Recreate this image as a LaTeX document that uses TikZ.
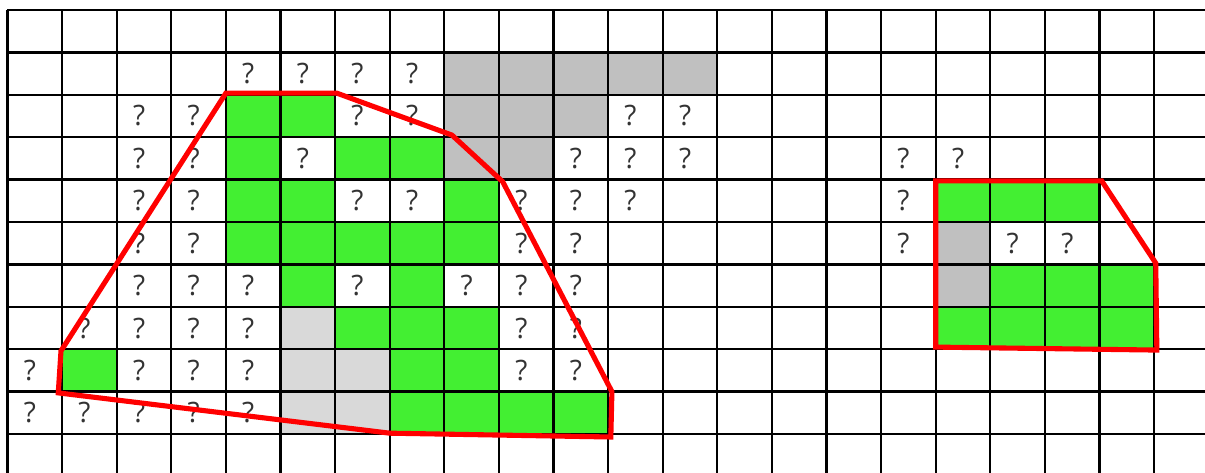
\documentclass[tikz,border=0pt]{standalone}
\usepackage{fontspec}
\newfontfamily\qfont{Open Sans}
\usetikzlibrary{positioning}
\definecolor{cellgreen}{HTML}{43EF32}
\definecolor{darkcell}{HTML}{C0C0C0}
\definecolor{lightcell}{HTML}{D9D9D9}
\definecolor{qgray}{HTML}{333333}

\begin{document}
\begin{tikzpicture}[x=1.092cm,y=-0.848cm,
  gc/.style={fill=cellgreen},
  dc/.style={fill=darkcell},
  lc/.style={fill=lightcell},
  qm/.style={inner sep=0pt,text=qgray,font=\qfont\fontsize{16}{16}\selectfont},
  hull/.style={draw=red,line width=2.9pt,line join=miter}]
  \useasboundingbox (-0.137,-0.236) rectangle (21.932,10.896);
  \clip (-0.137,-0.236) rectangle (21.932,10.896);
  % ---------- filled cells
  \foreach \c/\r in {4/2,5/2,4/3,6/3,7/3,4/4,5/4,8/4,4/5,5/5,6/5,7/5,8/5,5/6,7/6,
    6/7,7/7,8/7,1/8,7/8,8/8,7/9,8/9,9/9,10/9,
    17/4,18/4,19/4,18/6,19/6,20/6,17/7,18/7,19/7,20/7}
    \fill[gc] (\c,\r) rectangle ++(1,1);
  \foreach \c/\r in {8/1,9/1,10/1,11/1,12/1,8/2,9/2,10/2,8/3,9/3,17/5,17/6}
    \fill[dc] (\c,\r) rectangle ++(1,1);
  \foreach \c/\r in {5/7,5/8,6/8,5/9,6/9}
    \fill[lc] (\c,\r) rectangle ++(1,1);
  % ---------- unknown cells
  \foreach \c/\r [count=\i] in {4/1,5/1,6/1,7/1,
    2/2,3/2,6/2,7/2,11/2,12/2,
    2/3,3/3,5/3,10/3,11/3,12/3,16/3,17/3,
    2/4,3/4,6/4,7/4,9/4,10/4,11/4,16/4,
    2/5,3/5,9/5,10/5,16/5,18/5,19/5,
    2/6,3/6,4/6,6/6,8/6,9/6,10/6,
    1/7,2/7,3/7,4/7,9/7,10/7,
    0/8,2/8,3/8,4/8,9/8,10/8,
    0/9,1/9,2/9,3/9,4/9}
    \node[qm] (q\i) at (\c+0.41,\r+0.5) {?};
  % ---------- grid
  \foreach \c in {0,...,21} \draw[line width=1.3pt] (\c,0) -- (\c,11);
  \foreach \r in {0,...,10} \draw[line width=1.3pt] (0,\r) -- (22,\r);
  % ---------- hulls
  \draw[hull] (4,1.96) -- (6.03,1.96) -- (8.14,2.95) -- (9.07,4.05) -- (11.07,9.0)
    -- (11.05,10.07) -- (7,9.98) -- (0.93,9.03) -- (0.98,8.04) -- cycle;
  \draw[hull] (17,4.03) -- (20.04,4.03) -- (21.03,5.97) -- (21.05,8.02)
    -- (17,7.95) -- cycle;
\end{tikzpicture}
\end{document}
